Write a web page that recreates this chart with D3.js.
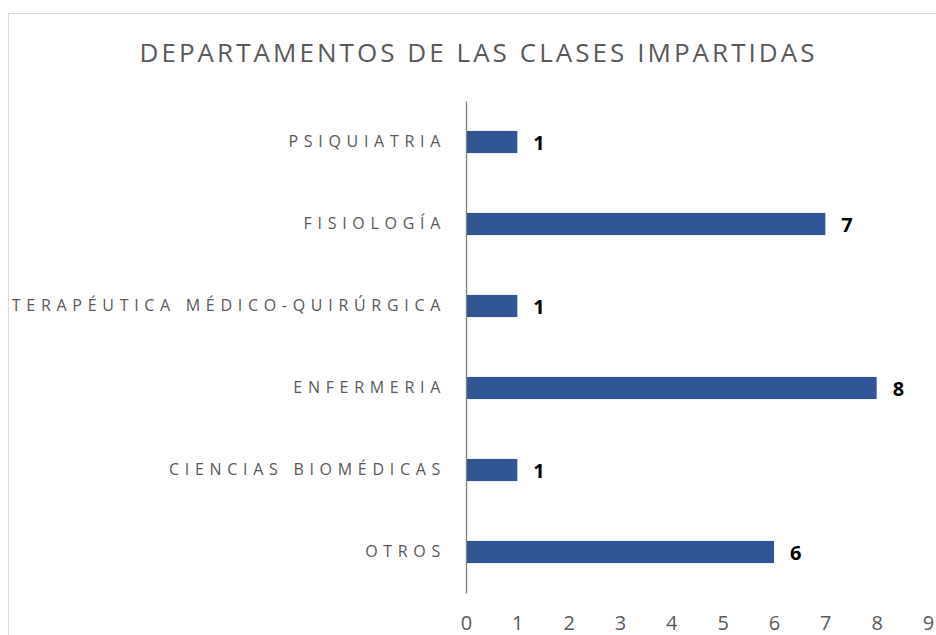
<!DOCTYPE html>
<html>
<head>
<meta charset="utf-8">
<script src="https://cdn.jsdelivr.net/npm/d3@7"></script>
<style>
  body { margin: 0; background: #fff; }
  text { font-family: "Open Sans", "Noto Sans", sans-serif; }
</style>
</head>
<body>
<div id="chart"></div>
<script>
// Data
var categories = ["PSIQUIATRIA", "FISIOLOGÍA", "TERAPÉUTICA MÉDICO-QUIRÚRGICA", "ENFERMERIA", "CIENCIAS BIOMÉDICAS", "OTROS"];
var counts = [1, 7, 1, 8, 1, 6];
var xTicks = [0, 1, 2, 3, 4, 5, 6, 7, 8, 9];
var title = "DEPARTAMENTOS DE LAS CLASES IMPARTIDAS";

// Svg Dimensions
var svgWidth = 936;
var svgHeight = 635;

var margin = { top: 101, right: 8, bottom: 42, left: 466 };
var chartWidth = svgWidth - margin.left - margin.right;
var chartHeight = svgHeight - margin.top - margin.bottom;

var svg = d3.select("#chart").append("svg")
    .attr("width", svgWidth)
    .attr("height", svgHeight);

// Chart area border
svg.append("path")
    .attr("d", "M8.5,635 V13.5 H936")
    .attr("fill", "none")
    .attr("stroke", "#d9d9d9")
    .attr("stroke-width", 1);

// Title
svg.append("text")
    .attr("x", 477)
    .attr("y", 62)
    .attr("text-anchor", "middle")
    .attr("font-size", "26px")
    .attr("fill", "#595959")
    .attr("textLength", 675)
    .text(title);

var chartGroup = svg.append("g")
    .attr("transform", `translate(${margin.left}, ${margin.top})`);

// Scales
var xScale = d3.scaleLinear()
    .domain([0, 9])
    .range([0, 462]);

var yScale = d3.scaleBand()
    .domain(categories)
    .range([0, chartHeight])
    .paddingInner(0.73)
    .paddingOuter(0.365);

// Bars
chartGroup.selectAll(".bar")
    .data(counts)
    .enter()
    .append("rect")
    .attr("class", "bar")
    .attr("x", 0)
    .attr("y", (d, i) => yScale(categories[i]))
    .attr("width", d => xScale(d))
    .attr("height", yScale.bandwidth())
    .attr("fill", "#2f5597");

// Value labels
chartGroup.selectAll(".value")
    .data(counts)
    .enter()
    .append("text")
    .attr("class", "value")
    .attr("x", d => xScale(d) + 16)
    .attr("y", (d, i) => yScale(categories[i]) + yScale.bandwidth() / 2)
    .attr("dy", "0.38em")
    .attr("font-size", "20px")
    .attr("font-weight", "bold")
    .attr("fill", "#000")
    .text(d => d);

// Y axis
var yAxis = chartGroup.append("g")
    .call(d3.axisLeft(yScale).tickSize(0).tickPadding(20));
yAxis.select(".domain").attr("stroke", "#7f7f7f").attr("stroke-width", 1.3);
yAxis.selectAll("text")
    .attr("font-size", "16px")
    .attr("fill", "#595959")
    .attr("letter-spacing", "5.7px")
    .attr("font-family", "'Open Sans', sans-serif");

// X axis (labels only)
var xAxis = chartGroup.append("g")
    .attr("transform", `translate(0, ${chartHeight})`)
    .call(d3.axisBottom(xScale).tickValues(xTicks).tickSize(0).tickPadding(23));
xAxis.select(".domain").remove();
xAxis.selectAll("text")
    .attr("font-size", "20px")
    .attr("fill", "#595959")
    .attr("font-family", "'Open Sans', sans-serif");
</script>
</body>
</html>
